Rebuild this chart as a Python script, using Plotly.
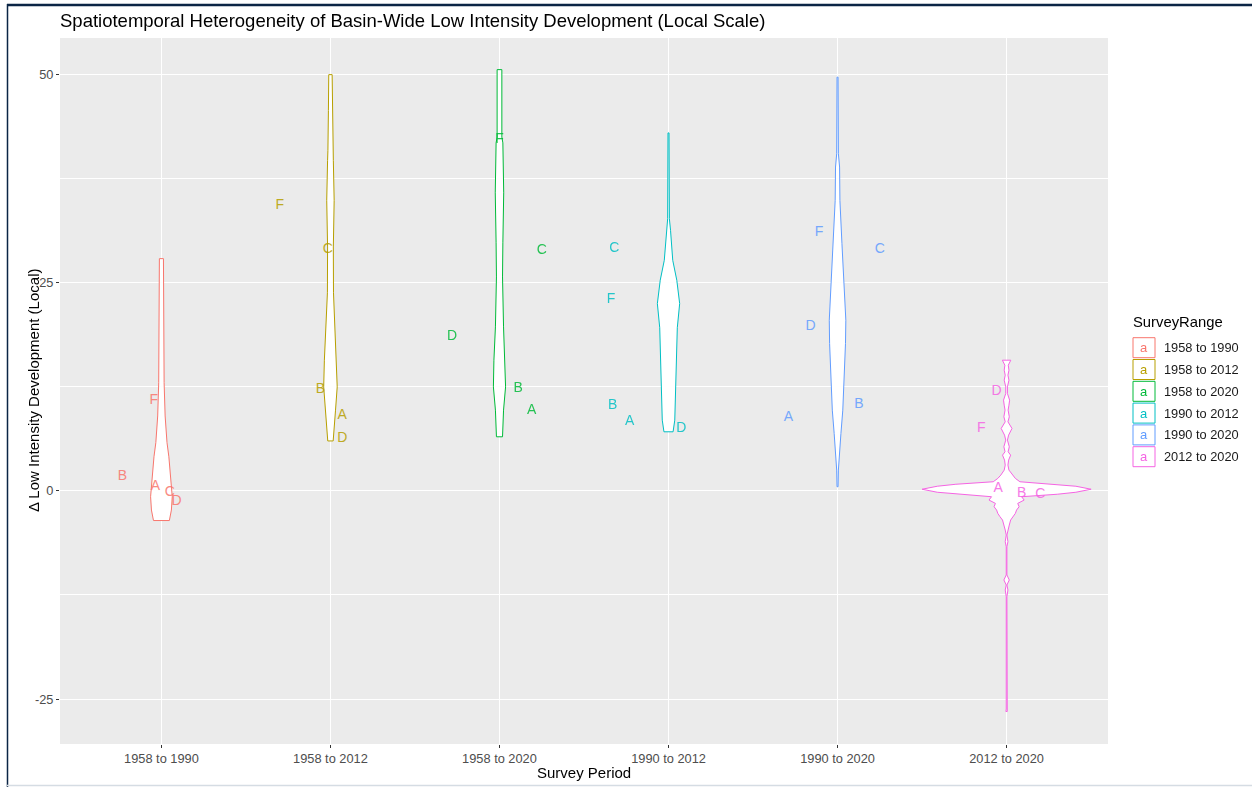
import plotly.graph_objects as go

# ---------------- data ----------------
categories = ["1958 to 1990", "1958 to 2012", "1958 to 2020",
              "1990 to 2012", "1990 to 2020", "2012 to 2020"]
colors = ["#F8766D", "#B79F00", "#00BA38", "#00BFC4", "#619CFF", "#F564E3"]

# violin density profiles: y value and half-width (fraction of a category slot)
v1_y = [27.9, 19.5, 18.7, 13.0, 9.0, 5.8, 4.1, 1.7, -0.7, -2.3, -3.56]
v1_w = [0.012, 0.012, 0.016, 0.016, 0.022, 0.033, 0.044, 0.056, 0.064, 0.059, 0.047]

v2_y = [50.0, 45.7, 40.9, 39.7, 34.9, 29.3, 23.8, 19.7, 15.7, 12.5, 9.7, 7.7, 6.0]
v2_w = [0.010, 0.012, 0.015, 0.017, 0.022, 0.017, 0.018, 0.025, 0.036, 0.040, 0.030, 0.022, 0.016]

v3_y = [50.6, 42.5, 41.8, 35.8, 29.8, 25.7, 19.7, 15.7, 12.5, 9.7, 6.5]
v3_w = [0.014, 0.014, 0.020, 0.025, 0.020, 0.018, 0.024, 0.033, 0.036, 0.024, 0.018]

v4_y = [43.0, 32.7, 31.3, 27.7, 25.3, 22.5, 19.6, 16.6, 12.5, 8.5, 7.1]
v4_w = [0.003, 0.005, 0.012, 0.025, 0.049, 0.066, 0.052, 0.049, 0.041, 0.037, 0.027]

v5_y = [49.7, 40.5, 38.9, 34.9, 29.7, 24.5, 20.5, 17.7, 13.7, 9.7, 6.9, 3.7, 2.5, 0.5]
v5_w = [0.003, 0.005, 0.012, 0.014, 0.026, 0.040, 0.049, 0.047, 0.040, 0.031, 0.020, 0.008, 0.005, 0.003]

v6_y = [15.7, 15.1, 14.5, 13.9, 13.3, 12.5, 11.7, 10.9, 10.3, 9.7, 8.9, 8.3, 7.5, 6.7,
        6.1, 5.3, 4.7, 4.3, 3.7, 3.1, 2.5, 1.9, 1.5, 1.1, 0.8, 0.56, 0.2, -0.16, -0.4,
        -0.7, -1.1, -1.5, -1.9, -2.3, -2.7, -3.1, -3.5, -4.1, -4.7, -5.3, -6.1, -6.7,
        -10.1, -10.7, -11.3, -11.9, -12.7, -26.2, -26.5]
v6_w = [0.025, 0.010, 0.014, 0.008, 0.014, 0.005, 0.005, 0.018, 0.014, 0.009, 0.016, 0.008,
        0.032, 0.012, 0.005, 0.016, 0.009, 0.024, 0.012, 0.008, 0.014, 0.034, 0.052, 0.079,
        0.30, 0.41, 0.50, 0.41, 0.30, 0.089, 0.104, 0.066, 0.074, 0.059, 0.052, 0.039, 0.024,
        0.016, 0.008, 0.002, 0.008, 0.002, 0.002, 0.016, 0.002, 0.008, 0.002, 0.002, 0.004]

violin_y = [v1_y, v2_y, v3_y, v4_y, v5_y, v6_y]
violin_w = [v1_w, v2_w, v3_w, v4_w, v5_w, v6_w]

# site labels (letter, value, horizontal jitter)
lab1_t = ["B", "A", "C", "D", "F"]
lab1_y = [1.7, 0.5, -0.2, -1.3, 10.9]
lab1_dx = [-0.23, -0.035, 0.05, 0.09, -0.045]

lab2_t = ["F", "C", "B", "A", "D"]
lab2_y = [34.3, 29.0, 12.2, 9.0, 6.3]
lab2_dx = [-0.30, -0.016, -0.06, 0.07, 0.07]

lab3_t = ["F", "C", "D", "B", "A"]
lab3_y = [42.2, 28.9, 18.5, 12.3, 9.6]
lab3_dx = [0.0, 0.25, -0.28, 0.11, 0.19]

lab4_t = ["C", "F", "B", "A", "D"]
lab4_y = [29.1, 23.0, 10.3, 8.3, 7.5]
lab4_dx = [-0.32, -0.34, -0.33, -0.23, 0.075]

lab5_t = ["F", "C", "D", "B", "A"]
lab5_y = [31.0, 29.0, 19.7, 10.4, 8.8]
lab5_dx = [-0.11, 0.25, -0.16, 0.126, -0.29]

lab6_t = ["D", "F", "A", "B", "C"]
lab6_y = [11.9, 7.5, 0.3, -0.3, -0.4]
lab6_dx = [-0.06, -0.15, -0.05, 0.09, 0.2]

labels_t = [lab1_t, lab2_t, lab3_t, lab4_t, lab5_t, lab6_t]
labels_y = [lab1_y, lab2_y, lab3_y, lab4_y, lab5_y, lab6_y]
labels_dx = [lab1_dx, lab2_dx, lab3_dx, lab4_dx, lab5_dx, lab6_dx]

y_ticks = [-25, 0, 25, 50]

# ---------------- figure ----------------
W, H = 1252, 787
L, R, T, B = 60, 144, 38, 43
FONT = "Liberation Sans, Arial, sans-serif"

fig = go.Figure()

for i, cat in enumerate(categories):
    ys = violin_y[i]
    ws = violin_w[i]
    xs_right = [i + w for w in ws]
    xs_left = [i - w for w in ws[::-1]]
    xpath = xs_right + xs_left + [xs_right[0]]
    ypath = list(ys) + list(ys[::-1]) + [ys[0]]
    fig.add_trace(go.Scatter(
        x=xpath, y=ypath, mode="lines", fill="toself", fillcolor="white",
        line=dict(color=colors[i], width=1), name=cat, showlegend=False,
        hoverinfo="skip"))

for i, cat in enumerate(categories):
    fig.add_trace(go.Scatter(
        x=[i + d for d in labels_dx[i]], y=labels_y[i], mode="text",
        text=labels_t[i], textposition="middle center",
        textfont=dict(family=FONT, size=14, color=colors[i]),
        opacity=0.85, showlegend=False, name=cat))


def px_x(px):
    return (px - L) / (W - L - R)


def px_y(py):
    return (H - B - py) / (H - T - B)


shapes = []
annotations = []

# axis titles
annotations.append(dict(x=0.5, y=px_y(772), xref="paper", yref="paper",
                        text="Survey Period", showarrow=False, xanchor="center", yanchor="middle",
                        font=dict(family=FONT, size=15, color="#000000")))
annotations.append(dict(x=px_x(33), y=0.5, xref="paper", yref="paper",
                        text="Δ Low Intensity Development (Local)", showarrow=False,
                        textangle=-90, xanchor="center", yanchor="middle",
                        font=dict(family=FONT, size=15, color="#000000")))

# legend (drawn manually to mimic ggplot keys)
annotations.append(dict(x=px_x(1131), y=px_y(322), xref="paper", yref="paper",
                        text="SurveyRange", showarrow=False, xanchor="left", yanchor="middle",
                        font=dict(family=FONT, size=14.8, color="#000000")))
for i, cat in enumerate(categories):
    cy = 347.7 + i * 21.8
    shapes.append(dict(type="rect", xref="paper", yref="paper",
                       x0=px_x(1133), x1=px_x(1155), y0=px_y(cy + 10), y1=px_y(cy - 10),
                       line=dict(color=colors[i], width=1), fillcolor="white", layer="above"))
    annotations.append(dict(x=px_x(1144), y=px_y(cy), xref="paper", yref="paper",
                            text="a", showarrow=False, xanchor="center", yanchor="middle",
                            font=dict(family=FONT, size=13, color=colors[i])))
    annotations.append(dict(x=px_x(1162), y=px_y(cy), xref="paper", yref="paper",
                            text=cat, showarrow=False, xanchor="left", yanchor="middle",
                            font=dict(family=FONT, size=12.8, color="#1A1A1A")))

# screenshot frame lines
shapes.append(dict(type="line", xref="paper", yref="paper",
                   x0=px_x(7), x1=px_x(1252), y0=px_y(5), y1=px_y(5),
                   line=dict(color="#0B2545", width=2.5)))
shapes.append(dict(type="line", xref="paper", yref="paper",
                   x0=px_x(7.5), x1=px_x(7.5), y0=px_y(4), y1=px_y(787),
                   line=dict(color="#0B2545", width=1.5)))
shapes.append(dict(type="line", xref="paper", yref="paper",
                   x0=px_x(7), x1=px_x(1252), y0=px_y(785.5), y1=px_y(785.5),
                   line=dict(color="#D5DCE3", width=1.5)))

fig.update_layout(
    width=W, height=H,
    margin=dict(l=L, r=R, t=T, b=B, pad=0, autoexpand=False),
    paper_bgcolor="white", plot_bgcolor="#EBEBEB",
    showlegend=False,
    font=dict(family=FONT),
    title=dict(text="Spatiotemporal Heterogeneity of Basin-Wide Low Intensity Development (Local Scale)",
               x=L / W, xanchor="left",
               y=1 - 21 / H, yanchor="middle",
               font=dict(family=FONT, size=18.5, color="#000000")),
    shapes=shapes, annotations=annotations,
)

fig.update_xaxes(
    range=[-0.6, 5.6], tickmode="array", tickvals=list(range(len(categories))),
    ticktext=categories, showgrid=True, gridcolor="white", gridwidth=1.1,
    zeroline=False, ticks="outside", ticklen=3, tickcolor="#333333", tickwidth=1,
    tickfont=dict(family=FONT, size=12.8, color="#4D4D4D"),
    automargin=False, showline=False)

fig.update_yaxes(
    range=[-30.4, 54.4], tickmode="array", tickvals=y_ticks,
    ticktext=[str(v) for v in y_ticks], showgrid=True, gridcolor="white", gridwidth=1.1,
    zeroline=False, ticks="outside", ticklen=3, tickcolor="#333333", tickwidth=1,
    tickfont=dict(family=FONT, size=12.8, color="#4D4D4D"),
    minor=dict(tickmode="array", tickvals=[-12.5, 12.5, 37.5], showgrid=True,
               gridcolor="white", gridwidth=0.55, ticks=""),
    automargin=False, showline=False)

fig.write_html("out.html", config={"displayModeBar": False},
               post_script="document.body.style.margin='0px';document.body.style.overflow='hidden';")
